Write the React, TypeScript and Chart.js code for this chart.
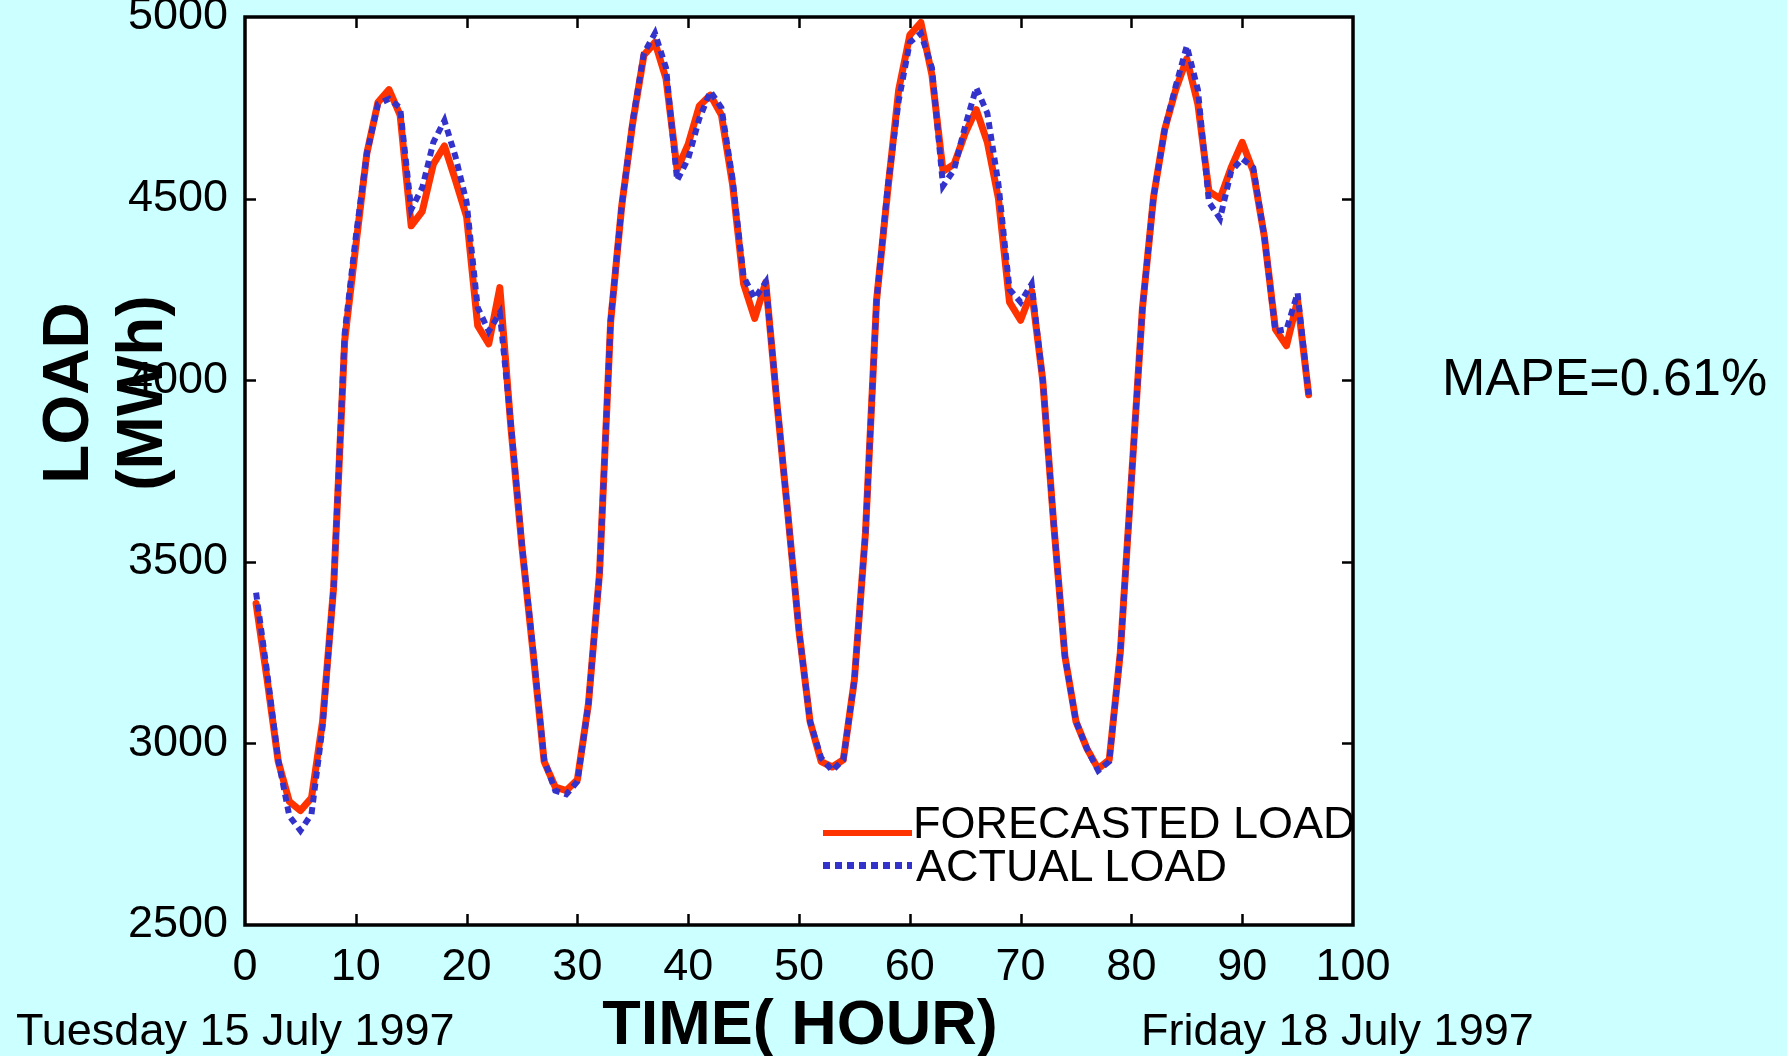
import React, { useEffect, useRef } from "react";
import { Chart, registerables } from "chart.js";

Chart.register(...registerables);

const HOURS = [
  1, 2, 3, 4, 5, 6, 7, 8, 9, 10, 11, 12, 13, 14, 15, 16, 17, 18, 19, 20, 21, 22, 23, 24,
  25, 26, 27, 28, 29, 30, 31, 32, 33, 34, 35, 36, 37, 38, 39, 40, 41, 42, 43, 44, 45, 46, 47, 48,
  49, 50, 51, 52, 53, 54, 55, 56, 57, 58, 59, 60, 61, 62, 63, 64, 65, 66, 67, 68, 69, 70, 71, 72,
  73, 74, 75, 76, 77, 78, 79, 80, 81, 82, 83, 84, 85, 86, 87, 88, 89, 90, 91, 92, 93, 94, 95, 96,
];

const FORECASTED_LOAD = [
  3385, 3175, 2950, 2840, 2815, 2850, 3060, 3430, 4110, 4370, 4625, 4765,
  4800, 4730, 4425, 4465, 4595, 4645, 4550, 4450, 4150, 4100, 4255, 3870,
  3540, 3250, 2950, 2880, 2870, 2900, 3110, 3470, 4160, 4480, 4710, 4895,
  4930, 4830, 4580, 4650, 4755, 4785, 4730, 4540, 4265, 4170, 4270, 3940,
  3630, 3310, 3060, 2950, 2935, 2955, 3175, 3580, 4220, 4520, 4800, 4950,
  4985, 4840, 4575, 4595, 4680, 4745, 4655, 4500, 4215, 4165, 4245, 4000,
  3600, 3240, 3060, 2985, 2930, 2955, 3250, 3725, 4200, 4505, 4690, 4800,
  4885, 4760, 4520, 4500, 4585, 4655, 4575, 4395, 4140, 4095, 4220, 3960,
];

const ACTUAL_LOAD = [
  3415, 3195, 2955, 2800, 2760, 2805, 3045, 3430, 4130, 4395, 4625, 4760,
  4775, 4750, 4470, 4530, 4655, 4715, 4615, 4490, 4200, 4135, 4185, 3880,
  3545, 3260, 2955, 2870, 2860, 2895, 3110, 3470, 4165, 4480, 4715, 4900,
  4955, 4860, 4550, 4610, 4720, 4795, 4750, 4555, 4285, 4225, 4270, 3945,
  3630, 3310, 3060, 2960, 2925, 2955, 3175, 3580, 4220, 4530, 4770, 4930,
  4955, 4860, 4535, 4580, 4700, 4805, 4735, 4540, 4250, 4215, 4265, 4000,
  3600, 3240, 3060, 2985, 2925, 2950, 3250, 3725, 4200, 4505, 4690, 4810,
  4920, 4800, 4490, 4445, 4575, 4610, 4585, 4395, 4135, 4140, 4240, 3960,
];

const X_TICKS = [0, 10, 20, 30, 40, 50, 60, 70, 80, 90, 100];
const Y_TICKS = [2500, 3000, 3500, 4000, 4500, 5000];

const SERIES_NAMES = ["FORECASTED LOAD", "ACTUAL LOAD"];
const X_TITLE = "TIME( HOUR)";
const Y_TITLE_LINES = ["LOAD", "(MWh)"];
const START_DATE = "Tuesday 15 July 1997";
const END_DATE = "Friday 18 July 1997";
const MAPE_TEXT = "MAPE=0.61%";

const RED = "#FF3300";
const BLUE = "#3333CC";
const BG = "#CCFFFF";
const FONT = "'Liberation Sans', Arial, Helvetica, sans-serif";

const W = 1787;
const H = 1056;
const PLOT_LEFT = 245;
const PLOT_RIGHT = 1353;
const PLOT_TOP = 17;
const PLOT_BOTTOM = 925;

const framePlugin = {
  id: "frame",
  beforeDraw(chart: any) {
    const { ctx, chartArea } = chart;
    ctx.save();
    ctx.fillStyle = BG;
    ctx.fillRect(0, 0, chart.width, chart.height);
    ctx.fillStyle = "#FFFFFF";
    ctx.fillRect(chartArea.left, chartArea.top, chartArea.right - chartArea.left, chartArea.bottom - chartArea.top);
    ctx.restore();
  },
  afterDraw(chart: any) {
    const { ctx, chartArea } = chart;
    const xs = chart.scales.x;
    const ys = chart.scales.y;
    const tl = 11;
    ctx.save();
    ctx.strokeStyle = "#000000";
    ctx.lineWidth = 2.5;
    ctx.beginPath();
    X_TICKS.forEach((v) => {
      if (v === X_TICKS[0] || v === X_TICKS[X_TICKS.length - 1]) return;
      const px = Math.round(xs.getPixelForValue(v)) + 0.5;
      ctx.moveTo(px, chartArea.bottom);
      ctx.lineTo(px, chartArea.bottom - tl);
      ctx.moveTo(px, chartArea.top);
      ctx.lineTo(px, chartArea.top + tl);
    });
    Y_TICKS.forEach((v) => {
      if (v === Y_TICKS[0] || v === Y_TICKS[Y_TICKS.length - 1]) return;
      const py = Math.round(ys.getPixelForValue(v)) + 0.5;
      ctx.moveTo(chartArea.left, py);
      ctx.lineTo(chartArea.left + tl, py);
      ctx.moveTo(chartArea.right, py);
      ctx.lineTo(chartArea.right - tl, py);
    });
    ctx.stroke();
    ctx.lineWidth = 3.5;
    ctx.strokeRect(chartArea.left, chartArea.top, chartArea.right - chartArea.left, chartArea.bottom - chartArea.top);
    ctx.restore();
  },
};

export default function App() {
  const canvasRef = useRef<HTMLCanvasElement | null>(null);

  useEffect(() => {
    const canvas = canvasRef.current;
    if (!canvas) return;
    const chart = new Chart(canvas, {
      type: "line",
      data: {
        datasets: [
          {
            label: SERIES_NAMES[0],
            data: HOURS.map((h, i) => ({ x: h, y: FORECASTED_LOAD[i] })),
            borderColor: RED,
            backgroundColor: RED,
            borderWidth: 7,
            pointRadius: 0,
            tension: 0,
            borderJoinStyle: "round",
            borderCapStyle: "round",
            order: 2,
            clip: false as any,
          },
          {
            label: SERIES_NAMES[1],
            data: HOURS.map((h, i) => ({ x: h, y: ACTUAL_LOAD[i] })),
            borderColor: BLUE,
            backgroundColor: BLUE,
            borderWidth: 6,
            borderDash: [7, 5],
            borderCapStyle: "butt",
            pointRadius: 0,
            tension: 0,
            order: 1,
            clip: false as any,
          },
        ],
      },
      options: {
        responsive: false,
        animation: false,
        devicePixelRatio: 1,
        layout: {
          padding: { left: 0, top: PLOT_TOP, right: W - PLOT_RIGHT, bottom: 0 },
        },
        plugins: {
          legend: { display: false },
          tooltip: { enabled: false },
          title: { display: false },
        },
        scales: {
          x: {
            type: "linear",
            min: X_TICKS[0],
            max: X_TICKS[X_TICKS.length - 1],
            afterFit: (s: any) => {
              s.height = H - PLOT_BOTTOM;
              s.paddingLeft = 0;
              s.paddingRight = 0;
            },
            afterBuildTicks: (s: any) => {
              s.ticks = X_TICKS.map((v) => ({ value: v }));
            },
            grid: { display: false, drawTicks: false },
            border: { display: false },
            ticks: {
              color: "#000000",
              font: { family: FONT, size: 45 },
              padding: 16,
              maxRotation: 0,
              autoSkip: false,
              callback: (v: any) => String(v),
            },
          },
          y: {
            type: "linear",
            min: Y_TICKS[0],
            max: Y_TICKS[Y_TICKS.length - 1],
            afterFit: (s: any) => {
              s.width = PLOT_LEFT;
              s.paddingTop = 0;
              s.paddingBottom = 0;
            },
            afterBuildTicks: (s: any) => {
              s.ticks = Y_TICKS.map((v) => ({ value: v }));
            },
            grid: { display: false, drawTicks: false },
            border: { display: false },
            ticks: {
              color: "#000000",
              font: { family: FONT, size: 45 },
              padding: 17,
              autoSkip: false,
              callback: (v: any) => String(v),
            },
          },
        },
      },
      plugins: [framePlugin],
    });
    return () => chart.destroy();
  }, []);

  const textBase: React.CSSProperties = {
    position: "absolute",
    fontFamily: FONT,
    color: "#000000",
    lineHeight: 1,
    whiteSpace: "nowrap",
    margin: 0,
  };

  return (
    <div
      style={{
        position: "fixed",
        left: 0,
        top: 0,
        width: W,
        height: H,
        background: BG,
        overflow: "hidden",
      }}
    >
      <canvas ref={canvasRef} width={W} height={H} style={{ position: "absolute", left: 0, top: 0, width: W, height: H }} />

      <div
        style={{
          ...textBase,
          left: 66,
          top: 393,
          fontSize: 64,
          fontWeight: "bold",
          transform: "translate(-50%, -50%) rotate(-90deg)",
        }}
      >
        {Y_TITLE_LINES[0]}
      </div>
      <div
        style={{
          ...textBase,
          left: 140,
          top: 393,
          fontSize: 64,
          fontWeight: "bold",
          transform: "translate(-50%, -50%) rotate(-90deg)",
        }}
      >
        {Y_TITLE_LINES[1]}
      </div>

      <div
        style={{
          ...textBase,
          left: 800,
          top: 1022,
          fontSize: 63,
          fontWeight: "bold",
          transform: "translate(-50%, -50%)",
        }}
      >
        {X_TITLE}
      </div>

      <div style={{ ...textBase, left: 16, top: 1029, fontSize: 45, transform: "translateY(-50%)" }}>{START_DATE}</div>
      <div style={{ ...textBase, left: 1141, top: 1029, fontSize: 45, transform: "translateY(-50%)" }}>{END_DATE}</div>

      <div style={{ ...textBase, left: 1442, top: 377, fontSize: 52, transform: "translateY(-50%)" }}>{MAPE_TEXT}</div>

      <div style={{ position: "absolute", left: 823, top: 830, width: 89, height: 6, background: RED }} />
      <div
        style={{
          position: "absolute",
          left: 823,
          top: 862,
          width: 89,
          height: 7,
          background: `repeating-linear-gradient(to right, ${BLUE} 0px, ${BLUE} 7px, transparent 7px, transparent 12px)`,
        }}
      />
      <div style={{ ...textBase, left: 913, top: 822, fontSize: 45, transform: "translateY(-50%)" }}>{SERIES_NAMES[0]}</div>
      <div style={{ ...textBase, left: 916, top: 865, fontSize: 45, transform: "translateY(-50%)" }}>{SERIES_NAMES[1]}</div>
    </div>
  );
}
